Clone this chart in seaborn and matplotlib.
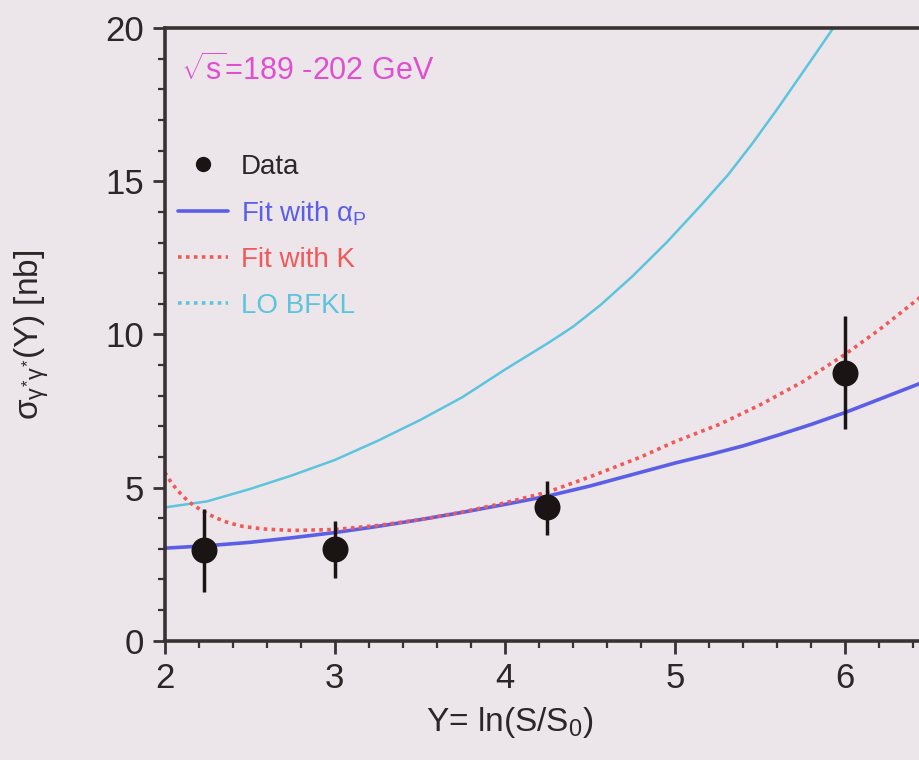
import numpy as np
import pandas as pd
import matplotlib
matplotlib.use("Agg")
import matplotlib.pyplot as plt
from matplotlib.lines import Line2D
from matplotlib.ticker import MultipleLocator
import seaborn as sns

# measured cross sections
data_y = [2.23, 3.0, 4.25, 6.0]
data_sigma = [2.95, 3.0, 4.35, 8.75]
data_err_lo = [1.35, 0.95, 0.9, 1.85]
data_err_hi = [1.35, 0.9, 0.85, 1.85]

# fit curves, values
fit_ap_y = [2.0, 2.25, 2.5, 2.75, 3.0, 3.25, 3.5, 3.75, 4.0, 4.25, 4.5, 4.8, 5.0, 5.2, 5.4, 5.6, 5.8, 6.0, 6.2, 6.45]
fit_ap_sigma = [3.02, 3.1, 3.21, 3.36, 3.53, 3.73, 3.95, 4.19, 4.45, 4.72, 5.05, 5.5, 5.8, 6.07, 6.36, 6.7, 7.06, 7.45, 7.88, 8.42]

fit_k_y = [2.0, 2.04, 2.08, 2.12, 2.16, 2.21, 2.26, 2.31, 2.36, 2.41, 2.46, 2.53, 2.6, 2.75, 3.0, 3.25, 3.5, 3.75,
           4.0, 4.25, 4.5, 4.8, 5.0, 5.26, 5.5, 5.75, 6.0, 6.2, 6.45]
fit_k_sigma = [5.5, 5.15, 4.88, 4.65, 4.46, 4.28, 4.12, 3.99, 3.88, 3.8, 3.73, 3.68, 3.64, 3.6, 3.63, 3.76, 3.95, 4.2,
               4.5, 4.85, 5.35, 6.0, 6.5, 7.06, 7.7, 8.45, 9.35, 10.15, 11.25]

bfkl_y = [2.0, 2.25, 2.5, 2.75, 3.0, 3.25, 3.5, 3.75, 4.0, 4.26, 4.4, 4.56, 4.75, 4.95, 5.15, 5.31, 5.45, 5.6, 5.75, 5.93, 6.0]
bfkl_sigma = [4.35, 4.55, 4.95, 5.4, 5.9, 6.52, 7.2, 7.95, 8.85, 9.74, 10.25, 10.95, 11.9, 13.0, 14.2, 15.2, 16.2, 17.35, 18.55, 20.0, 20.6]

bg = "#ece6eb"
spine_col = "#3a3232"
c_blue = "#5b5fe6"
c_red = "#f0595a"
c_cyan = "#5cc4dc"
c_mag = "#e04fd0"
c_text = "#2b2727"

sns.set_style("ticks")
plt.rcParams["font.family"] = ["Liberation Sans", "DejaVu Sans"]
plt.rcParams["mathtext.fontset"] = "custom"
plt.rcParams["mathtext.rm"] = "Liberation Sans"
plt.rcParams["mathtext.it"] = "Liberation Sans"

fig = plt.figure(figsize=(9.2, 7.6), dpi=100, facecolor=bg)
ax = fig.add_axes([0.179, 0.157, 0.821, 0.806], facecolor=bg)

df_ap = pd.DataFrame({"Y": fit_ap_y, "sigma": fit_ap_sigma})
df_k = pd.DataFrame({"Y": fit_k_y, "sigma": fit_k_sigma})
df_bfkl = pd.DataFrame({"Y": bfkl_y, "sigma": bfkl_sigma})

sns.lineplot(data=df_bfkl, x="Y", y="sigma", ax=ax, color=c_cyan, lw=1.8, sort=True)
sns.lineplot(data=df_ap, x="Y", y="sigma", ax=ax, color=c_blue, lw=2.6, sort=True)
sns.lineplot(data=df_k, x="Y", y="sigma", ax=ax, color=c_red, lw=2.6, sort=True,
             linestyle=(0, (1, 1.2)))

ax.errorbar(data_y, data_sigma, yerr=[data_err_lo, data_err_hi], fmt="none",
            ecolor="#1a1414", elinewidth=2.5, capsize=0, zorder=4)
sns.scatterplot(x=data_y, y=data_sigma, ax=ax, color="#1a1414", s=300,
                edgecolor="#1a1414", zorder=5, legend=False)

ax.set_xlim(2, 6.44)
ax.set_ylim(0, 20)
ax.xaxis.set_major_locator(MultipleLocator(1))
ax.xaxis.set_minor_locator(MultipleLocator(0.2))
ax.yaxis.set_major_locator(MultipleLocator(5))
ax.yaxis.set_minor_locator(MultipleLocator(1))

for side in ["left", "bottom", "top"]:
    ax.spines[side].set_color(spine_col)
    ax.spines[side].set_linewidth(2.6)
ax.spines["right"].set_visible(False)
ax.tick_params(which="major", direction="out", length=9, width=2, color=spine_col,
               labelsize=25, labelcolor=c_text, pad=6)
ax.tick_params(which="minor", direction="out", length=5, width=1.6, color=spine_col)
ax.tick_params(axis="x", top=False, which="both")

ax.set_xlabel(r"Y= ln(S/S$_0$)", fontsize=24, color=c_text)
ax.xaxis.set_label_coords(0.457, -0.105)
ax.set_ylabel(r"$\mathrm{\sigma}_{\gamma^{*}\gamma^{*}}$(Y) [nb]", fontsize=24, color=c_text)
ax.yaxis.set_label_coords(-0.15, 0.5)

ax.text(0.022, 0.958, r"$\sqrt{\mathrm{s}}$=189 -202 GeV", transform=ax.transAxes,
        fontsize=22, color=c_mag, va="top", ha="left")

handles = [
    Line2D([], [], marker="o", ls="none", color="#1a1414", markersize=10),
    Line2D([], [], color=c_blue, lw=2.6),
    Line2D([], [], color=c_red, lw=2.6, ls=(0, (1, 1.2))),
    Line2D([], [], color=c_cyan, lw=2.6, ls=(0, (1, 1.2))),
]
labels = ["Data", r"Fit with $\alpha_{\mathrm{P}}$", "Fit with K", "LO BFKL"]
leg = ax.legend(handles, labels, loc="upper left", bbox_to_anchor=(0.018, 0.795),
                frameon=False, fontsize=20, handlelength=1.8, handletextpad=0.45,
                labelspacing=0.7, borderpad=0, borderaxespad=0)
for txt, col in zip(leg.get_texts(), [c_text, c_blue, c_red, c_cyan]):
    txt.set_color(col)

fig.savefig("out.png", dpi=100, facecolor=bg)
